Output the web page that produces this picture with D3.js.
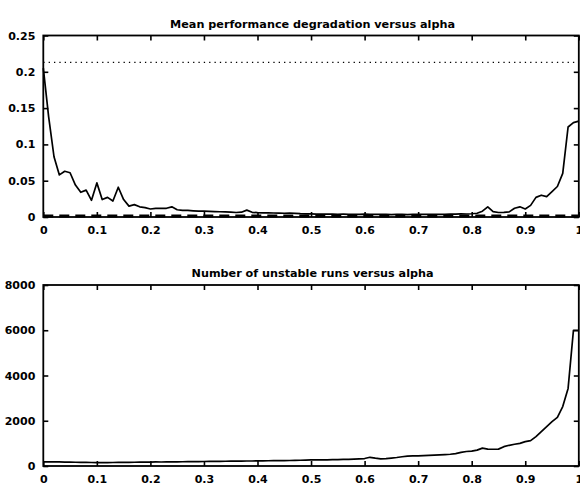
<!DOCTYPE html>
<html>
<head>
<meta charset="utf-8">
<script src="https://cdn.jsdelivr.net/npm/d3@7"></script>
<style>
  body { margin: 0; background: #fff; }
  text { font-family: "DejaVu Sans", sans-serif; font-weight: bold; fill: #000; }
</style>
</head>
<body>
<div id="chart"></div>
<script>
// alpha from 0 to 1 in steps of 0.01
var alphas = d3.range(101).map(function(i) { return i / 100; });

var degradation = [
  0.205, 0.138, 0.083, 0.058, 0.063, 0.061, 0.044, 0.034, 0.037, 0.023,
  0.047, 0.024, 0.027, 0.022, 0.041, 0.024, 0.015, 0.017, 0.014, 0.013,
  0.011, 0.012, 0.012, 0.012, 0.014, 0.010, 0.009, 0.009, 0.0085, 0.008,
  0.008, 0.0078, 0.0075, 0.0072, 0.007, 0.0068, 0.0062, 0.0066, 0.0095, 0.0065,
  0.006, 0.0058, 0.0056, 0.0055, 0.0054, 0.0052, 0.0055, 0.005, 0.0046, 0.0044,
  0.0042, 0.004, 0.0041, 0.0039, 0.004, 0.0038, 0.0039, 0.0037, 0.0038, 0.0036,
  0.004, 0.0037, 0.0036, 0.0035, 0.0036, 0.0034, 0.0035, 0.0036, 0.0034, 0.0035,
  0.0036, 0.0035, 0.0037, 0.0036, 0.0038, 0.0037, 0.0039, 0.004, 0.0042, 0.0041,
  0.0045, 0.0052, 0.008, 0.014, 0.0075, 0.0062, 0.0065, 0.007, 0.012, 0.014,
  0.011, 0.016, 0.027, 0.030, 0.028, 0.035, 0.042, 0.060, 0.124, 0.130,
  0.132
];

var unstableRuns = [
  180, 185, 182, 178, 172, 168, 165, 160, 158, 155,
  152, 150, 152, 155, 158, 160, 162, 165, 168, 170,
  175, 178, 176, 180, 182, 185, 188, 190, 192, 195,
  200, 203, 205, 208, 210, 212, 215, 218, 220, 222,
  228, 230, 232, 235, 238, 240, 243, 248, 255, 262,
  268, 272, 270, 275, 280, 285, 290, 295, 305, 315,
  330, 385, 345, 315, 325, 350, 375, 410, 440, 445,
  450, 460, 470, 480, 490, 505, 520, 550, 600, 640,
  660, 700, 790, 745, 740, 745, 855, 915, 960, 1000,
  1075, 1120, 1300, 1520, 1740, 1960, 2150, 2625, 3430, 6000,
  6000
];

var upperBound = 0.213;   // dotted reference line
var lowerBound = 0.0015;  // dashed reference line

var xTicks = [0, 0.1, 0.2, 0.3, 0.4, 0.5, 0.6, 0.7, 0.8, 0.9, 1];
var yTicksTop = [0, 0.05, 0.1, 0.15, 0.2, 0.25];
var yTicksBottom = [0, 2000, 4000, 6000, 8000];

var width = 580, height = 485;

var svg = d3.select("#chart").append("svg")
    .attr("width", width)
    .attr("height", height);

function panel(opts) {
    var x = d3.scaleLinear().domain([0, 1]).range([43.3, 578.8]);
    var y = d3.scaleLinear().domain(opts.yDomain).range([opts.bottom, opts.top]);
    var g = svg.append("g");

    // axes with inward ticks on all four sides
    g.append("g").attr("transform", "translate(0," + opts.bottom + ")")
        .call(d3.axisBottom(x).tickValues(xTicks).tickSizeInner(-5).tickSizeOuter(0)
            .tickPadding(9).tickFormat(d3.format("")));
    g.append("g").attr("transform", "translate(0," + opts.top + ")")
        .call(d3.axisTop(x).tickValues(xTicks).tickSizeInner(-5).tickSizeOuter(0).tickFormat(""));
    g.append("g").attr("transform", "translate(" + x.range()[0] + ",0)")
        .call(d3.axisLeft(y).tickValues(opts.yTicks).tickSizeInner(-5).tickSizeOuter(0)
            .tickPadding(8).tickFormat(d3.format("")));
    g.append("g").attr("transform", "translate(" + x.range()[1] + ",0)")
        .call(d3.axisRight(y).tickValues(opts.yTicks).tickSizeInner(-5).tickSizeOuter(0).tickFormat(""));

    g.selectAll(".domain").remove();
    g.selectAll(".tick line").attr("stroke", "#000").attr("stroke-width", 1.6);
    g.selectAll(".tick text").style("font-size", "11px").style("font-family", "DejaVu Sans")
        .style("font-weight", "bold");

    g.append("rect")
        .attr("x", x.range()[0]).attr("y", opts.top)
        .attr("width", x.range()[1] - x.range()[0])
        .attr("height", opts.bottom - opts.top)
        .attr("fill", "none").attr("stroke", "#000").attr("stroke-width", 1.8);

    g.append("text")
        .attr("x", (x.range()[0] + x.range()[1]) / 2 + 1.5)
        .attr("y", opts.top - 8)
        .attr("text-anchor", "middle")
        .attr("textLength", opts.titleWidth)
        .attr("lengthAdjust", "spacingAndGlyphs")
        .style("font-size", "10.5px")
        .text(opts.title);

    return { x: x, y: y, g: g };
}

// top panel
var p1 = panel({ top: 35.5, bottom: 217, yDomain: [0, 0.25], yTicks: yTicksTop,
    title: "Mean performance degradation versus alpha", titleWidth: 285 });

p1.g.append("line")
    .attr("x1", p1.x(0)).attr("x2", p1.x(1))
    .attr("y1", p1.y(upperBound)).attr("y2", p1.y(upperBound))
    .attr("stroke", "#000").attr("stroke-width", 1.3)
    .attr("stroke-dasharray", "1.3,4.05");

p1.g.append("line")
    .attr("x1", p1.x(0)).attr("x2", p1.x(1))
    .attr("y1", p1.y(lowerBound)).attr("y2", p1.y(lowerBound))
    .attr("stroke", "#000").attr("stroke-width", 3)
    .attr("stroke-dasharray", "10,6");

var line1 = d3.line()
    .x(function(d, i) { return p1.x(alphas[i]); })
    .y(function(d) { return p1.y(d); });

p1.g.append("path")
    .datum(degradation)
    .attr("fill", "none").attr("stroke", "#000").attr("stroke-width", 1.7)
    .attr("stroke-linejoin", "round")
    .attr("d", line1);

// bottom panel
var p2 = panel({ top: 285, bottom: 466, yDomain: [0, 8000], yTicks: yTicksBottom,
    title: "Number of unstable runs versus alpha", titleWidth: 242 });

var line2 = d3.line()
    .x(function(d, i) { return p2.x(alphas[i]); })
    .y(function(d) { return p2.y(d); });

p2.g.append("path")
    .datum(unstableRuns)
    .attr("fill", "none").attr("stroke", "#000").attr("stroke-width", 1.7)
    .attr("stroke-linejoin", "round")
    .attr("d", line2);
</script>
</body>
</html>
